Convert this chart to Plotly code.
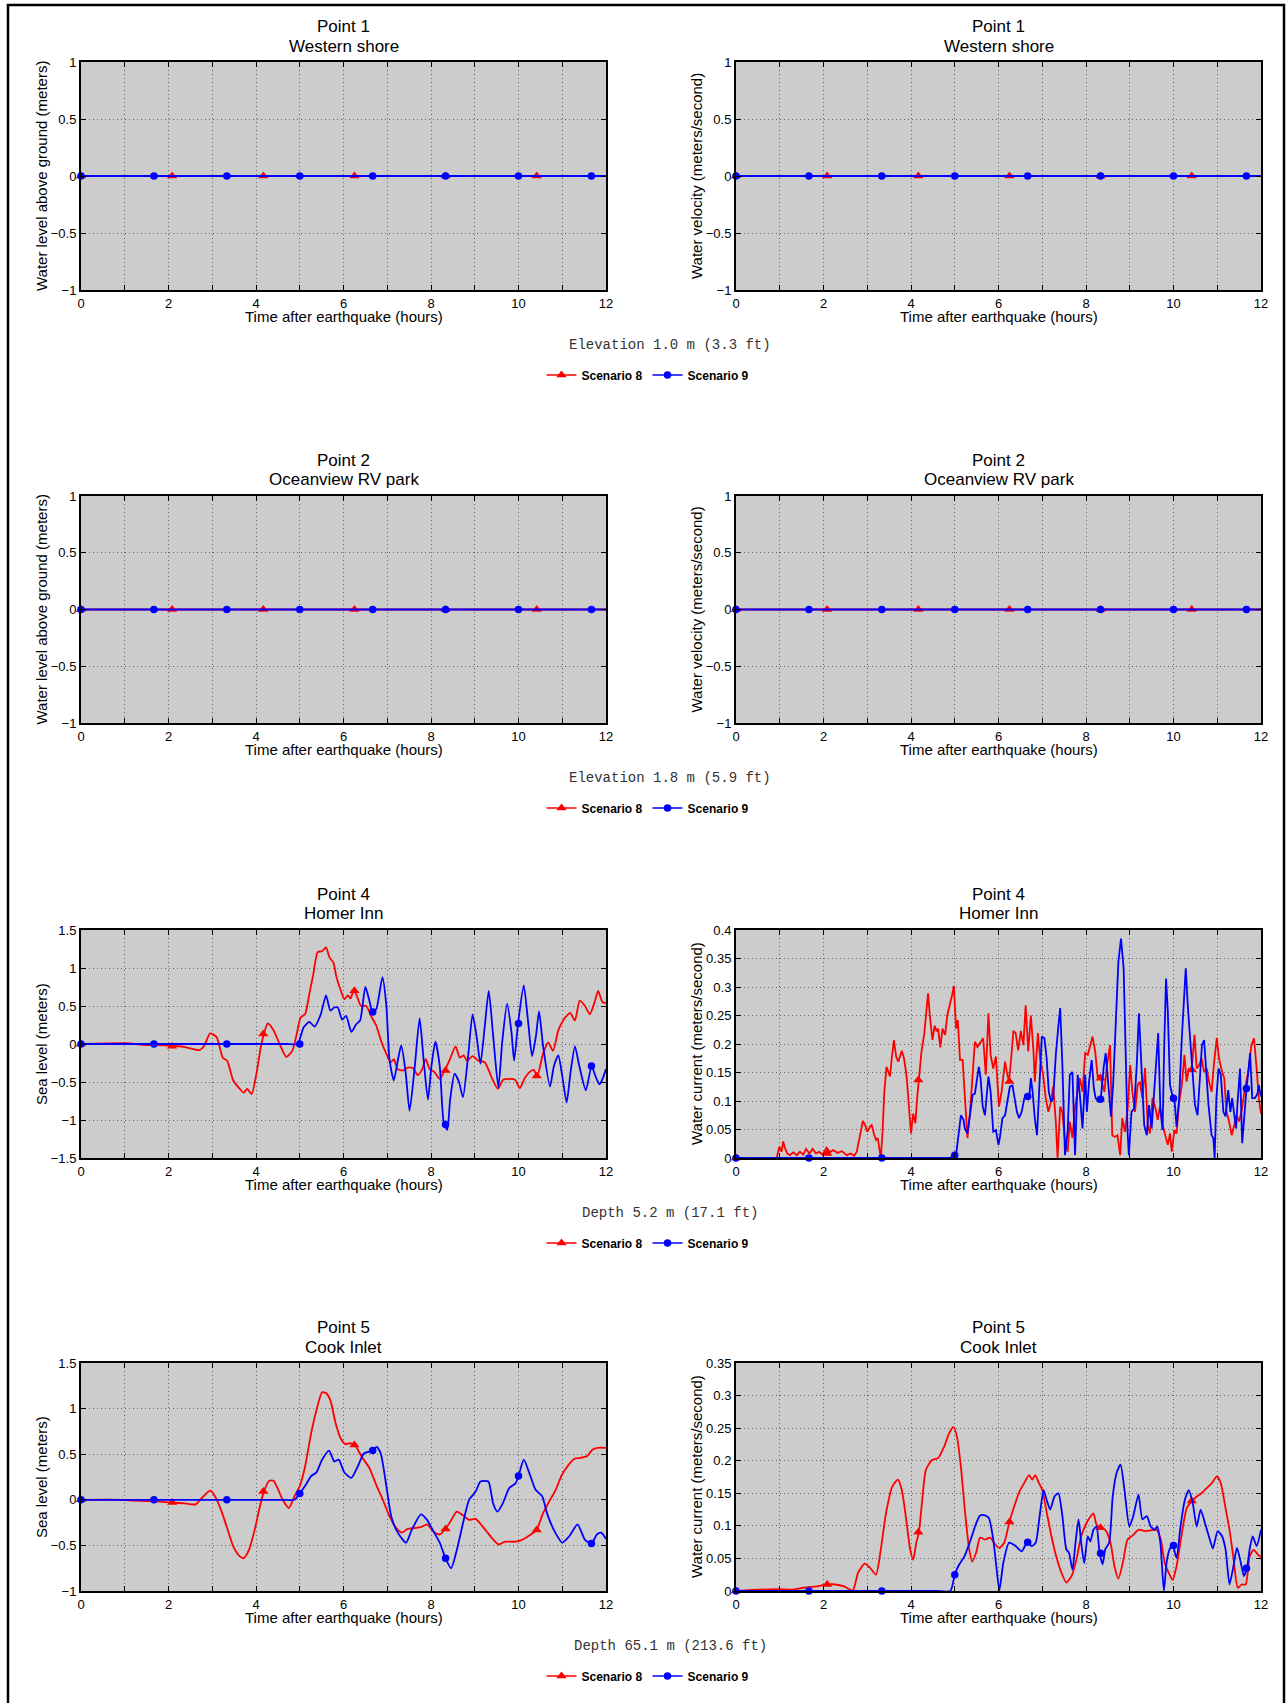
import plotly.graph_objects as go

# ---------------- DATA ----------------
hours_ticks = list(range(0, 13))

# marker sample times (hours)
s8_marker_t = [0, 2.083, 4.167, 6.25, 8.333, 10.417]
s9_marker_t = [0, 1.667, 3.333, 5.0, 6.667, 8.333, 10.0, 11.667]

# Points 1 and 2: flat (dry) series
flat_t = [0, 12]
flat_v = [0, 0]
flat_s8_marker_v = [0, 0, 0, 0, 0, 0]
flat_s9_marker_v = [0, 0, 0, 0, 0, 0, 0, 0]

# Point 4 Homer Inn - sea level
p4_lvl_s8_t = [0, 1.03, 1.41, 1.99, 2.38, 2.71, 2.82, 2.95, 3.1, 3.24, 3.34, 3.48, 3.63, 3.72, 3.8, 3.9,
               4.01, 4.11, 4.18, 4.27, 4.4, 4.54, 4.69, 4.83, 4.93, 5.02, 5.12, 5.22, 5.31, 5.41, 5.51,
               5.6, 5.68, 5.77, 5.84, 5.94, 6.02, 6.1, 6.16, 6.23, 6.3, 6.4, 6.52, 6.63, 6.75, 6.86,
               6.98, 7.08, 7.15, 7.24, 7.36, 7.47, 7.59, 7.7, 7.8, 7.88, 7.97, 8.08, 8.2, 8.31, 8.42,
               8.56, 8.66, 8.75, 8.82, 8.95, 9.08, 9.23, 9.4, 9.53, 9.65, 9.8, 9.92, 10.03, 10.15,
               10.27, 10.35, 10.43, 10.56, 10.68, 10.79, 10.91, 11.02, 11.1, 11.18, 11.29, 11.4,
               11.52, 11.63, 11.75, 11.82, 11.92, 12.0]
p4_lvl_s8_v = [0, 0.01, -0.01, -0.02, -0.04, -0.08, -0.02, 0.14, 0.09, -0.18, -0.22, -0.48, -0.59, -0.64,
               -0.59, -0.66, -0.39, -0.04, 0.13, 0.27, 0.18, 0.0, -0.17, -0.09, 0.13, 0.35, 0.39, 0.66,
               0.92, 1.21, 1.22, 1.27, 1.14, 1.07, 0.88, 0.70, 0.59, 0.64, 0.60, 0.70, 0.64, 0.50, 0.50,
               0.37, 0.24, 0.04, -0.13, -0.24, -0.20, -0.33, -0.35, -0.31, -0.32, -0.41, -0.33, -0.20,
               -0.33, -0.37, -0.46, -0.35, -0.22, -0.03, -0.18, -0.15, -0.22, -0.16, -0.22, -0.24, -0.46,
               -0.59, -0.47, -0.46, -0.47, -0.58, -0.44, -0.36, -0.34, -0.42, -0.13, 0.02, -0.09, 0.18,
               0.31, 0.37, 0.41, 0.31, 0.57, 0.50, 0.39, 0.57, 0.70, 0.55, 0.54]
p4_lvl_s9_t = [0, 2.0, 4.0, 4.7, 4.95, 5.09, 5.22, 5.34, 5.48, 5.6, 5.7, 5.79, 5.87, 5.97, 6.06, 6.18, 6.29,
               6.38, 6.5, 6.6, 6.66, 6.75, 6.89, 6.98, 7.05, 7.15, 7.24, 7.32, 7.42, 7.51, 7.63, 7.74,
               7.83, 7.93, 8.01, 8.1, 8.2, 8.29, 8.37, 8.44, 8.54, 8.64, 8.73, 8.85, 8.95, 9.04, 9.13,
               9.23, 9.32, 9.42, 9.54, 9.63, 9.74, 9.84, 9.9, 9.99, 10.12, 10.22, 10.31, 10.4, 10.47,
               10.56, 10.72, 10.81, 10.91, 11.0, 11.1, 11.19, 11.29, 11.39, 11.54, 11.67, 11.77, 11.85,
               11.92, 12.0]
p4_lvl_s9_v = [0, 0, 0, 0, 0, 0.22, 0.29, 0.23, 0.39, 0.64, 0.44, 0.48, 0.48, 0.32, 0.37, 0.16, 0.26,
               0.31, 0.75, 0.55, 0.42, 0.46, 0.88, 0.50, -0.20, -0.48, -0.22, -0.02, -0.37, -0.88, -0.29,
               0.34, -0.20, -0.73, -0.29, 0.03, -0.29, -1.03, -1.13, -0.72, -0.39, -0.50, -0.70, -0.15,
               0.39, 0.11, -0.26, 0.24, 0.70, 0.11, -0.57, 0.04, 0.53, 0.15, -0.22, 0.27, 0.77, 0.29,
               -0.16, 0.11, 0.43, -0.02, -0.56, -0.29, -0.15, -0.42, -0.77, -0.37, -0.03, -0.29, -0.61,
               -0.29, -0.44, -0.53, -0.46, -0.33]
p4_lvl_s8_marker_v = [0, -0.03, 0.13, 0.70, -0.35, -0.42]
p4_lvl_s9_marker_v = [0, 0, 0, 0, 0.42, -1.06, 0.27, -0.29]

# Point 4 Homer Inn - water current
p4_cur_s8_t = [0, 0.93, 0.99, 1.04, 1.08, 1.12, 1.17, 1.23, 1.31, 1.39, 1.46, 1.54, 1.6, 1.68, 1.75, 1.83,
               1.9, 1.98, 2.07, 2.15, 2.22, 2.32, 2.42, 2.53, 2.62, 2.7, 2.76, 2.83, 2.9, 2.95, 3.0, 3.05,
               3.1, 3.15, 3.2, 3.24, 3.28, 3.31, 3.35, 3.39, 3.44, 3.49, 3.52, 3.56, 3.61, 3.66, 3.71,
               3.79, 3.84, 3.9, 3.95, 4.0, 4.05, 4.1, 4.14, 4.18, 4.24, 4.3, 4.34, 4.39, 4.43, 4.49, 4.54,
               4.59, 4.62, 4.67, 4.72, 4.78, 4.83, 4.89, 4.94, 4.98, 5.03, 5.07, 5.12, 5.18, 5.23, 5.29,
               5.35, 5.41, 5.46, 5.52, 5.59, 5.65, 5.71, 5.77, 5.82, 5.88, 5.94, 6.01, 6.07, 6.15, 6.19,
               6.24, 6.29, 6.34, 6.39, 6.45, 6.51, 6.57, 6.62, 6.68, 6.74, 6.8, 6.83, 6.9, 6.95, 7.02,
               7.08, 7.14, 7.2, 7.25, 7.31, 7.35, 7.41, 7.46, 7.52, 7.58, 7.63, 7.69, 7.75, 7.81, 7.86,
               7.92, 7.98, 8.04, 8.09, 8.15, 8.21, 8.27, 8.32, 8.36, 8.42, 8.47, 8.55, 8.6, 8.66, 8.72,
               8.78, 8.83, 8.89, 8.95, 9.01, 9.06, 9.12, 9.18, 9.23, 9.29, 9.35, 9.41, 9.46, 9.52, 9.58,
               9.64, 9.69, 9.75, 9.81, 9.87, 9.92, 9.96, 10.02, 10.07, 10.13, 10.19, 10.25, 10.3, 10.35,
               10.41, 10.48, 10.53, 10.59, 10.64, 10.7, 10.76, 10.81, 10.87, 10.93, 10.99, 11.04, 11.1,
               11.16, 11.21, 11.27, 11.33, 11.39, 11.44, 11.5, 11.56, 11.62, 11.67, 11.72, 11.78, 11.84,
               11.9, 11.95, 12.0]
p4_cur_s8_v = [0, 0, 0.02, 0.011, 0.029, 0.017, 0.008, 0.005, 0.01, 0.005, 0.011, 0.006, 0.016, 0.008,
               0.016, 0.008, 0.011, 0.006, 0.018, 0.01, 0.014, 0.009, 0.012, 0.005, 0.008, 0.004, 0.011,
               0.035, 0.065, 0.058, 0.046, 0.053, 0.059, 0.043, 0.032, 0.035, 0.011, 0.0, 0.046, 0.116,
               0.16, 0.151, 0.143, 0.175, 0.207, 0.178, 0.169, 0.188, 0.175, 0.143, 0.093, 0.043, 0.078,
               0.061, 0.105, 0.137, 0.187, 0.216, 0.251, 0.289, 0.251, 0.207, 0.232, 0.222, 0.227, 0.194,
               0.227, 0.216, 0.251, 0.268, 0.286, 0.302, 0.227, 0.242, 0.172, 0.172, 0.111, 0.035, 0.081,
               0.143, 0.204, 0.195, 0.204, 0.21, 0.146, 0.254, 0.181, 0.157, 0.178, 0.09, 0.116, 0.169,
               0.151, 0.134, 0.175, 0.222, 0.22, 0.189, 0.223, 0.198, 0.268, 0.187, 0.25, 0.187, 0.134,
               0.219, 0.175, 0.146, 0.105, 0.081, 0.099, 0.125, 0.064, 0.0, 0.09, 0.081, 0.029, 0.011,
               0.064, 0.035, 0.09, 0.116, 0.14, 0.116, 0.184, 0.181, 0.195, 0.213, 0.187, 0.14, 0.146,
               0.134, 0.116, 0.157, 0.198, 0.04, 0.037, 0.04, 0.005, 0.07, 0.046, 0.084, 0.163, 0.116,
               0.081, 0.128, 0.134, 0.105, 0.158, 0.058, 0.043, 0.105, 0.09, 0.067, 0.09, 0.058, 0.04,
               0.023, 0.043, 0.011, 0.049, 0.043, 0.099, 0.128, 0.181, 0.134, 0.157, 0.151, 0.216, 0.157,
               0.163, 0.175, 0.151, 0.157, 0.134, 0.116, 0.169, 0.211, 0.175, 0.154, 0.14, 0.081, 0.064,
               0.04, 0.058, 0.075, 0.064, 0.084, 0.116, 0.134, 0.157, 0.198, 0.21, 0.157, 0.105, 0.078]
p4_cur_s9_t = [0, 4.9, 5.04, 5.09, 5.14, 5.2, 5.23, 5.29, 5.35, 5.41, 5.46, 5.5, 5.55, 5.59, 5.64, 5.69,
               5.73, 5.77, 5.82, 5.88, 5.94, 6.0, 6.03, 6.09, 6.15, 6.21, 6.26, 6.32, 6.36, 6.42, 6.47,
               6.53, 6.59, 6.66, 6.7, 6.74, 6.78, 6.83, 6.88, 6.93, 6.99, 7.05, 7.1, 7.15, 7.2, 7.25,
               7.31, 7.37, 7.41, 7.46, 7.52, 7.58, 7.63, 7.69, 7.75, 7.81, 7.86, 7.92, 7.98, 8.02, 8.07,
               8.13, 8.18, 8.22, 8.28, 8.34, 8.4, 8.45, 8.51, 8.57, 8.62, 8.68, 8.74, 8.8, 8.86, 8.91,
               8.95, 8.98, 9.04, 9.1, 9.16, 9.21, 9.27, 9.33, 9.39, 9.44, 9.5, 9.56, 9.61, 9.65, 9.7,
               9.75, 9.79, 9.83, 9.87, 9.92, 9.97, 10.02, 10.07, 10.13, 10.19, 10.23, 10.28, 10.33,
               10.38, 10.43, 10.49, 10.55, 10.6, 10.65, 10.7, 10.74, 10.8, 10.87, 10.91, 10.94, 10.98,
               11.03, 11.08, 11.14, 11.19, 11.25, 11.3, 11.34, 11.39, 11.43, 11.46, 11.52, 11.57, 11.62,
               11.67, 11.71, 11.75, 11.8, 11.86, 11.92, 11.95, 12.0]
p4_cur_s9_v = [0, 0, 0.011, 0.046, 0.075, 0.067, 0.052, 0.043, 0.075, 0.111, 0.113, 0.134, 0.16, 0.14,
               0.09, 0.075, 0.105, 0.143, 0.116, 0.046, 0.049, 0.023, 0.035, 0.07, 0.075, 0.099, 0.125,
               0.127, 0.111, 0.081, 0.07, 0.081, 0.105, 0.109, 0.105, 0.14, 0.116, 0.07, 0.04, 0.128,
               0.213, 0.21, 0.175, 0.116, 0.099, 0.105, 0.181, 0.233, 0.263, 0.163, 0.005, 0.046, 0.146,
               0.151, 0.005, 0.146, 0.111, 0.052, 0.146, 0.081, 0.134, 0.172, 0.122, 0.105, 0.099, 0.106,
               0.157, 0.184, 0.134, 0.073, 0.128, 0.245, 0.344, 0.385, 0.333, 0.175, 0.046, 0.005, 0.081,
               0.087, 0.163, 0.254, 0.163, 0.058, 0.04, 0.093, 0.052, 0.116, 0.163, 0.219, 0.087, 0.049,
               0.204, 0.315, 0.257, 0.128, 0.111, 0.105, 0.055, 0.105, 0.21, 0.257, 0.333, 0.263, 0.204,
               0.163, 0.093, 0.075, 0.14, 0.198, 0.207, 0.163, 0.093, 0.04, 0.035, 0.0, 0.105, 0.157,
               0.146, 0.081, 0.073, 0.119, 0.081, 0.105, 0.07, 0.052, 0.093, 0.157, 0.026, 0.081, 0.123,
               0.151, 0.184, 0.105, 0.105, 0.113, 0.128, 0.108]
p4_cur_s8_marker_v = [0, 0.008, 0.137, 0.134, 0.14, 0.155]
p4_cur_s9_marker_v = [0, 0, 0, 0.005, 0.108, 0.103, 0.105, 0.122]

# Point 5 Cook Inlet - sea level
p5_lvl_s8_t = [0, 0.93, 1.22, 1.8, 2.09, 2.38, 2.62, 2.76, 2.95, 3.05, 3.2, 3.34, 3.48, 3.63, 3.72, 3.84,
               3.97, 4.09, 4.18, 4.3, 4.4, 4.49, 4.61, 4.75, 4.88, 5.0, 5.12, 5.26, 5.38, 5.51, 5.6, 5.7,
               5.82, 5.94, 6.05, 6.15, 6.26, 6.42, 6.59, 6.76, 6.9, 7.05, 7.19, 7.33, 7.46, 7.62, 7.77,
               7.91, 8.06, 8.2, 8.33, 8.44, 8.59, 8.73, 8.87, 9.02, 9.16, 9.31, 9.45, 9.55, 9.69, 9.87,
               10.03, 10.22, 10.41, 10.56, 10.7, 10.85, 10.99, 11.14, 11.28, 11.42, 11.57, 11.69, 11.81,
               12.0]
p5_lvl_s8_v = [0, 0.0, -0.01, -0.02, -0.03, -0.04, -0.05, 0.02, 0.10, 0.05, -0.11, -0.31, -0.51, -0.62,
               -0.64, -0.55, -0.33, -0.07, 0.09, 0.21, 0.21, 0.13, 0.0, -0.09, 0.04, 0.15, 0.36, 0.73,
               0.98, 1.18, 1.17, 1.09, 0.84, 0.67, 0.61, 0.62, 0.60, 0.47, 0.35, 0.15, 0.0, -0.18, -0.30,
               -0.36, -0.32, -0.31, -0.30, -0.27, -0.35, -0.38, -0.32, -0.24, -0.13, -0.17, -0.22, -0.21,
               -0.28, -0.37, -0.45, -0.49, -0.46, -0.46, -0.45, -0.40, -0.33, -0.15, -0.02, 0.11, 0.27,
               0.38, 0.45, 0.46, 0.48, 0.55, 0.57, 0.57]
p5_lvl_s9_t = [0, 2.0, 4.0, 4.6, 4.88, 5.0, 5.12, 5.26, 5.38, 5.51, 5.67, 5.79, 5.89, 6.02, 6.18, 6.32,
               6.47, 6.66, 6.76, 6.85, 6.98, 7.09, 7.24, 7.43, 7.56, 7.77, 7.91, 8.06, 8.2, 8.33, 8.46,
               8.59, 8.73, 8.87, 9.02, 9.13, 9.31, 9.42, 9.52, 9.64, 9.79, 9.93, 10.0, 10.12, 10.25,
               10.39, 10.54, 10.66, 10.84, 11.0, 11.16, 11.35, 11.52, 11.67, 11.79, 11.89, 12.0]
p5_lvl_s9_v = [0, 0, 0, 0, 0, 0.07, 0.15, 0.26, 0.30, 0.44, 0.54, 0.42, 0.44, 0.30, 0.24, 0.36, 0.51,
               0.54, 0.58, 0.51, 0.15, -0.18, -0.36, -0.47, -0.33, -0.16, -0.22, -0.35, -0.47, -0.64,
               -0.75, -0.55, -0.26, 0.0, 0.09, 0.20, 0.20, -0.04, -0.13, -0.04, 0.13, 0.18, 0.26, 0.44,
               0.29, 0.11, 0.04, -0.16, -0.36, -0.47, -0.40, -0.27, -0.44, -0.48, -0.38, -0.36, -0.43]
p5_lvl_s8_marker_v = [0, -0.03, 0.09, 0.60, -0.32, -0.33]
p5_lvl_s9_marker_v = [0, 0, 0, 0.07, 0.54, -0.64, 0.26, -0.48]

# Point 5 Cook Inlet - water current
p5_cur_s8_t = [0, 0.91, 1.27, 1.55, 1.92, 2.08, 2.28, 2.47, 2.67, 2.79, 2.94, 3.06, 3.2, 3.31, 3.43,
               3.57, 3.7, 3.79, 3.89, 3.98, 4.05, 4.12, 4.18, 4.25, 4.34, 4.48, 4.62, 4.76, 4.87, 4.97,
               5.05, 5.14, 5.23, 5.33, 5.4, 5.49, 5.58, 5.69, 5.81, 5.93, 6.02, 6.13, 6.25, 6.36, 6.48,
               6.59, 6.7, 6.77, 6.84, 6.91, 7.0, 7.09, 7.21, 7.32, 7.44, 7.55, 7.67, 7.78, 7.89, 8.01,
               8.08, 8.17, 8.24, 8.33, 8.44, 8.56, 8.65, 8.74, 8.84, 8.95, 9.06, 9.2, 9.34, 9.48, 9.61,
               9.71, 9.8, 9.91, 9.98, 10.07, 10.18, 10.3, 10.42, 10.53, 10.64, 10.76, 10.88, 10.99,
               11.08, 11.19, 11.28, 11.37, 11.47, 11.56, 11.65, 11.74, 11.83, 11.93, 12.0]
p5_cur_s8_v = [0, 0.003, 0.002, 0.005, 0.008, 0.01, 0.01, 0.007, 0.001, 0.028, 0.042, 0.036, 0.025,
               0.064, 0.12, 0.16, 0.171, 0.155, 0.11, 0.064, 0.048, 0.074, 0.09, 0.135, 0.186, 0.201,
               0.204, 0.222, 0.242, 0.252, 0.237, 0.191, 0.125, 0.064, 0.045, 0.059, 0.082, 0.079, 0.082,
               0.071, 0.066, 0.074, 0.106, 0.13, 0.153, 0.166, 0.178, 0.171, 0.178, 0.168, 0.155, 0.125,
               0.084, 0.053, 0.028, 0.013, 0.023, 0.048, 0.084, 0.104, 0.112, 0.119, 0.102, 0.097, 0.094,
               0.074, 0.038, 0.019, 0.043, 0.079, 0.085, 0.094, 0.092, 0.093, 0.094, 0.079, 0.043, 0.025,
               0.017, 0.038, 0.084, 0.127, 0.138, 0.145, 0.15, 0.158, 0.166, 0.176, 0.166, 0.127, 0.094,
               0.051, 0.005, 0.01, 0.01, 0.053, 0.063, 0.056, 0.052]
p5_cur_s9_t = [0, 2.0, 4.0, 4.6, 4.9, 5.0, 5.08, 5.22, 5.35, 5.49, 5.58, 5.69, 5.78, 5.88, 5.95, 6.02,
               6.11, 6.24, 6.39, 6.53, 6.66, 6.76, 6.85, 6.94, 7.03, 7.1, 7.18, 7.28, 7.37, 7.46, 7.55,
               7.61, 7.69, 7.76, 7.83, 7.89, 7.96, 8.04, 8.1, 8.17, 8.24, 8.31, 8.38, 8.44, 8.53, 8.61,
               8.7, 8.79, 8.88, 8.99, 9.08, 9.2, 9.29, 9.39, 9.48, 9.57, 9.63, 9.7, 9.78, 9.84, 9.91,
               9.98, 10.07, 10.16, 10.26, 10.35, 10.44, 10.53, 10.62, 10.72, 10.83, 10.9, 11.01, 11.11,
               11.19, 11.28, 11.37, 11.45, 11.54, 11.61, 11.68, 11.74, 11.81, 11.9, 12.0]
p5_cur_s9_v = [0, 0, 0, 0, 0, 0.025, 0.038, 0.053, 0.076, 0.104, 0.116, 0.116, 0.112, 0.079, 0.038, 0.001,
               0.043, 0.074, 0.069, 0.061, 0.075, 0.069, 0.074, 0.115, 0.155, 0.14, 0.125, 0.145, 0.15,
               0.115, 0.064, 0.059, 0.033, 0.074, 0.11, 0.074, 0.043, 0.084, 0.076, 0.094, 0.099, 0.059,
               0.041, 0.064, 0.074, 0.145, 0.181, 0.194, 0.155, 0.099, 0.115, 0.148, 0.11, 0.115, 0.099,
               0.094, 0.099, 0.074, 0.0, 0.043, 0.064, 0.07, 0.051, 0.099, 0.14, 0.155, 0.135, 0.099,
               0.125, 0.104, 0.079, 0.065, 0.092, 0.084, 0.064, 0.01, 0.038, 0.066, 0.043, 0.023, 0.036,
               0.064, 0.084, 0.069, 0.094]
p5_cur_s8_marker_v = [0, 0.01, 0.09, 0.106, 0.097, 0.138]
p5_cur_s9_marker_v = [0, 0, 0, 0.025, 0.075, 0.058, 0.07, 0.035]

point_titles = [("Point 1", "Western shore"), ("Point 2", "Oceanview RV park"),
                ("Point 4", "Homer Inn"), ("Point 5", "Cook Inlet")]
row_notes = ["Elevation 1.0 m (3.3 ft)", "Elevation 1.8 m (5.9 ft)",
             "Depth 5.2 m (17.1 ft)", "Depth 65.1 m (213.6 ft)"]
left_ytitles = ["Water level above ground (meters)", "Water level above ground (meters)",
                "Sea level (meters)", "Sea level (meters)"]
right_ytitles = ["Water velocity (meters/second)", "Water velocity (meters/second)",
                 "Water current (meters/second)", "Water current (meters/second)"]
x_title = "Time after earthquake (hours)"

left_yticks = [[-1, -0.5, 0, 0.5, 1], [-1, -0.5, 0, 0.5, 1],
               [-1.5, -1, -0.5, 0, 0.5, 1, 1.5], [-1, -0.5, 0, 0.5, 1, 1.5]]
right_yticks = [[-1, -0.5, 0, 0.5, 1], [-1, -0.5, 0, 0.5, 1],
                [0, 0.05, 0.1, 0.15, 0.2, 0.25, 0.3, 0.35, 0.4],
                [0, 0.05, 0.1, 0.15, 0.2, 0.25, 0.3, 0.35]]

series_names = ["Scenario 8", "Scenario 9"]
series_colors = ["#FF0000", "#0000FF"]

# ---------------- FIGURE ----------------
W, H = 1288, 1703
FONT = "Liberation Sans, Arial, Helvetica, sans-serif"

left_px = (81, 606)
right_px = (736, 1261)
row_px = [(62, 290), (496, 723), (930, 1158), (1363, 1591)]


def px_x(p):
    return p / W


def px_y(p):
    return 1 - p / H


def fmt(v):
    if v == 0:
        return "0"
    s = ("%g" % abs(v))
    return ("\u2212" if v < 0 else "") + s


panels = [
    # (row, col, s8_t, s8_v, s9_t, s9_v, s8_mv, s9_mv, smooth)
    (0, 0, flat_t, flat_v, flat_t, flat_v, flat_s8_marker_v, flat_s9_marker_v, False),
    (0, 1, flat_t, flat_v, flat_t, flat_v, flat_s8_marker_v, flat_s9_marker_v, False),
    (1, 0, flat_t, flat_v, flat_t, flat_v, flat_s8_marker_v, flat_s9_marker_v, False),
    (1, 1, flat_t, flat_v, flat_t, flat_v, flat_s8_marker_v, flat_s9_marker_v, False),
    (2, 0, p4_lvl_s8_t, p4_lvl_s8_v, p4_lvl_s9_t, p4_lvl_s9_v, p4_lvl_s8_marker_v, p4_lvl_s9_marker_v, True),
    (2, 1, p4_cur_s8_t, p4_cur_s8_v, p4_cur_s9_t, p4_cur_s9_v, p4_cur_s8_marker_v, p4_cur_s9_marker_v, False),
    (3, 0, p5_lvl_s8_t, p5_lvl_s8_v, p5_lvl_s9_t, p5_lvl_s9_v, p5_lvl_s8_marker_v, p5_lvl_s9_marker_v, True),
    (3, 1, p5_cur_s8_t, p5_cur_s8_v, p5_cur_s9_t, p5_cur_s9_v, p5_cur_s8_marker_v, p5_cur_s9_marker_v, True),
]

MARKER_SIZE = [9, 7.5]
MARKER_SYMBOL = ["triangle-up", "circle"]

fig = go.Figure()
layout = dict(
    width=W, height=H, margin=dict(l=0, r=0, t=0, b=0),
    paper_bgcolor="white", plot_bgcolor="#CCCCCC",
    font=dict(family=FONT, color="black", size=13),
    showlegend=True,
)
annotations = []

for idx, (r, c, t8, v8, t9, v9, m8, m9, smooth) in enumerate(panels):
    n = idx + 1
    xa = "xaxis" if n == 1 else "xaxis%d" % n
    ya = "yaxis" if n == 1 else "yaxis%d" % n
    xref = "x" if n == 1 else "x%d" % n
    yref = "y" if n == 1 else "y%d" % n
    xp = left_px if c == 0 else right_px
    yp = row_px[r]
    yt = left_yticks[r] if c == 0 else right_yticks[r]

    common = dict(
        ticks="inside", ticklen=5, tickcolor="black", tickwidth=1,
        showline=True, linecolor="black", linewidth=2, mirror="allticks",
        showgrid=True, gridcolor="#666666", griddash="1px,3px", gridwidth=1,
        zeroline=False, tickfont=dict(size=13), automargin=False, fixedrange=True,
    )
    layout[xa] = dict(
        domain=[px_x(xp[0]), px_x(xp[1])], anchor=yref, range=[0, 12],
        tickvals=hours_ticks, ticktext=[str(h) if h % 2 == 0 else "" for h in hours_ticks],
        **common)
    layout[ya] = dict(
        domain=[px_y(yp[1]), px_y(yp[0])], anchor=xref, range=[yt[0], yt[-1]],
        tickvals=yt, ticktext=[fmt(v) for v in yt], **common)

    shape = "spline" if smooth else "linear"
    for k, (tt, vv, mt, mv) in enumerate([(t8, v8, s8_marker_t, m8), (t9, v9, s9_marker_t, m9)]):
        fig.add_trace(go.Scatter(
            x=tt, y=vv, mode="lines", xaxis=xref, yaxis=yref,
            line=dict(color=series_colors[k], width=1.8, shape=shape, smoothing=0.6),
            showlegend=False, cliponaxis=False, hoverinfo="skip"))
        fig.add_trace(go.Scatter(
            x=mt, y=mv, mode="markers", xaxis=xref, yaxis=yref,
            marker=dict(color=series_colors[k], size=MARKER_SIZE[k], symbol=MARKER_SYMBOL[k],
                        line=dict(width=0)),
            showlegend=False, cliponaxis=False, hoverinfo="skip"))

    # titles
    cx = (xp[0] + xp[1]) / 2
    annotations.append(dict(text=point_titles[r][0], x=px_x(cx), y=px_y(yp[0] - 36), xref="paper",
                            yref="paper", showarrow=False, xanchor="center", yanchor="middle",
                            font=dict(size=17)))
    annotations.append(dict(text=point_titles[r][1], x=px_x(cx), y=px_y(yp[0] - 16), xref="paper",
                            yref="paper", showarrow=False, xanchor="center", yanchor="middle",
                            font=dict(size=17)))
    annotations.append(dict(text=x_title, x=px_x(cx), y=px_y(yp[1] + 26), xref="paper",
                            yref="paper", showarrow=False, xanchor="center", yanchor="middle",
                            font=dict(size=15)))
    annotations.append(dict(text=(left_ytitles if c == 0 else right_ytitles)[r],
                            x=px_x(xp[0] - 40), y=px_y((yp[0] + yp[1]) / 2), xref="paper",
                            yref="paper", showarrow=False, xanchor="center", yanchor="middle",
                            textangle=-90, font=dict(size=15)))

# per-row note and legend
for r in range(4):
    bottom = row_px[r][1]
    annotations.append(dict(text=row_notes[r], x=px_x(670), y=px_y(bottom + 55), xref="paper",
                            yref="paper", showarrow=False, xanchor="center", yanchor="middle",
                            font=dict(size=14, family="Courier New, Liberation Mono, monospace",
                                      color="#333333")))
    lname = "legend" if r == 0 else "legend%d" % (r + 1)
    layout[lname] = dict(
        orientation="h", x=px_x(648), xanchor="center", y=px_y(bottom + 85), yanchor="middle",
        bgcolor="rgba(0,0,0,0)", font=dict(size=12, family=FONT, color="black"),
        itemwidth=30, tracegroupgap=0,
    )
    for k in range(2):
        fig.add_trace(go.Scatter(
            x=[None], y=[None], mode="lines+markers", name="<b>%s</b>" % series_names[k],
            line=dict(color=series_colors[k], width=1.6),
            marker=dict(color=series_colors[k], size=MARKER_SIZE[k], symbol=MARKER_SYMBOL[k],
                        line=dict(width=0)),
            legend=lname, showlegend=True, hoverinfo="skip"))

layout["annotations"] = annotations
layout["shapes"] = [dict(type="rect", xref="paper", yref="paper",
                         x0=px_x(8), x1=px_x(1284), y0=-0.02, y1=px_y(5),
                         line=dict(color="black", width=2.5), fillcolor="rgba(0,0,0,0)")]
fig.update_layout(**layout)

fig.write_html("out.html", config={"displayModeBar": False},
               post_script="document.body.style.margin='0';document.body.style.overflow='hidden';")
